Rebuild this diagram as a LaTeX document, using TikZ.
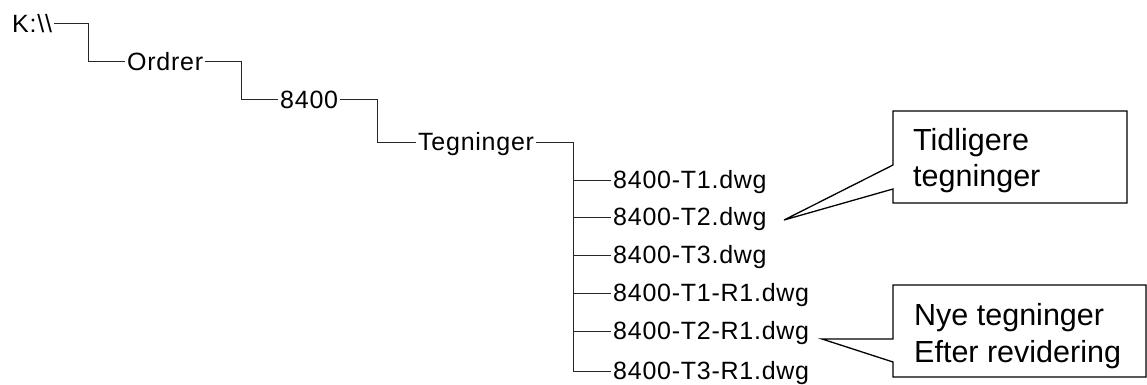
\documentclass[tikz,border=0pt]{standalone}
\usepackage{fontspec}
\setmainfont{Liberation Sans}
\newfontfamily\treefont[LetterSpace=3]{Liberation Sans}
\begin{document}
\begin{tikzpicture}[x=1pt,y=-1pt,
  treenode/.style={anchor=west,inner xsep=2pt,inner ysep=0pt,text height=17.9pt,text depth=0pt,
    font=\treefont\fontsize{25}{29}\selectfont},
  treeline/.style={line width=1pt,black!85},
  calltext/.style={anchor=base west,inner sep=0pt,font=\fontsize{30.5}{36.7}\selectfont},
  callbox/.style={line width=1.3pt,fill=white,line join=miter}
]
\useasboundingbox (0,0) rectangle (1147,385);
% tree nodes
\node[treenode] (k) at (10,24) {K:\textbackslash\textbackslash};
\node[treenode] (ordrer) at (125,62) {Ordrer};
\node[treenode] (n8400) at (278,100) {8400};
\node[treenode] (teg) at (416,142) {Tegninger};
\node[treenode] (f1) at (611,180) {8400-T1.dwg};
\node[treenode] (f2) at (611,217) {8400-T2.dwg};
\node[treenode] (f3) at (611,255) {8400-T3.dwg};
\node[treenode] (f4) at (611,293) {8400-T1-R1.dwg};
\node[treenode] (f5) at (611,331) {8400-T2-R1.dwg};
\node[treenode] (f6) at (611,371) {8400-T3-R1.dwg};
% tree connectors
\coordinate (c1) at (88,24);
\coordinate (c2) at (241,62);
\coordinate (c3) at (377,100);
\coordinate (sp) at (573,142);
\draw[treeline] (k.east) -- (c1) |- (ordrer.west);
\draw[treeline] (ordrer.east) -- (c2) |- (n8400.west);
\draw[treeline] (n8400.east) -- (c3) |- (teg.west);
\draw[treeline] (teg.east) -- (sp) |- (f6.west);
\foreach \f in {f1,f2,f3,f4,f5}{
  \draw[treeline] (\f.west -| sp) -- (\f.west);
}
% callout 1
\coordinate (b1nw) at (893,111);
\coordinate (b1ne) at (1127,111);
\coordinate (b1se) at (1127,203);
\coordinate (b1sw) at (893,203);
\coordinate (b1lo) at (893,189);
\coordinate (b1hi) at (893,165);
\coordinate (tip1) at (784,220);
\draw[callbox] (b1nw) -- (b1ne) -- (b1se) -- (b1sw) -- (b1lo) -- (tip1) -- (b1hi) -- cycle;
\node[calltext] (t1a) at (913,150) {Tidligere};
\node[calltext] (t1b) at (913,186.7) {tegninger};
% callout 2
\coordinate (b2nw) at (893,285);
\coordinate (b2ne) at (1146,285);
\coordinate (b2se) at (1146,377);
\coordinate (b2sw) at (893,377);
\coordinate (b2lo) at (893,362);
\coordinate (b2hi) at (893,339);
\coordinate (tip2) at (822,339);
\draw[callbox] (b2nw) -- (b2ne) -- (b2se) -- (b2sw) -- (b2lo) -- (tip2) -- (b2hi) -- cycle;
\node[calltext] (t2a) at (914,325.7) {Nye tegninger};
\node[calltext] (t2b) at (914,362) {Efter revidering};
\end{tikzpicture}
\end{document}
